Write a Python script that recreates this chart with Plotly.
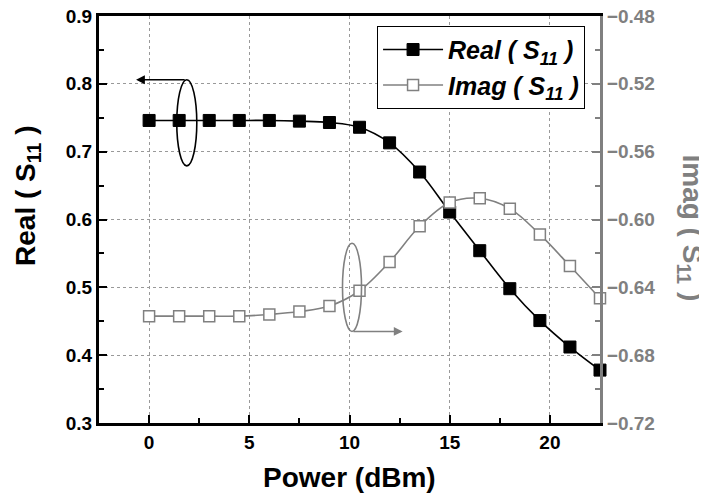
import plotly.graph_objects as go

power = [0, 1.5, 3, 4.5, 6, 7.5, 9, 10.5, 12, 13.5, 15, 16.5, 18, 19.5, 21, 22.5]
real_s11 = [0.746, 0.746, 0.746, 0.746, 0.746, 0.745, 0.743, 0.736, 0.713, 0.670, 0.611,
            0.554, 0.498, 0.451, 0.412, 0.378]
imag_s11 = [-0.657, -0.657, -0.657, -0.657, -0.656, -0.6543, -0.651, -0.642, -0.625, -0.604,
            -0.590, -0.5875, -0.5936, -0.6088, -0.6274, -0.6465]

FONT = "Liberation Sans, Arial, sans-serif"
GRAY = "#808080"

fig = go.Figure()
fig.add_trace(go.Scatter(
    x=power, y=real_s11, mode="lines+markers", name="<b><i>Real ( S<sub>11</sub> )</i></b>",
    line=dict(color="black", width=1.6, shape="spline"),
    marker=dict(symbol="square", size=12, color="black", line=dict(color="black", width=1)),
    yaxis="y", cliponaxis=False))
fig.add_trace(go.Scatter(
    x=power, y=imag_s11, mode="lines+markers", name="<b><i>Imag ( S<sub>11</sub> )</i></b>",
    line=dict(color=GRAY, width=1.6, shape="spline"),
    marker=dict(symbol="square", size=11, color="white", line=dict(color=GRAY, width=1.5)),
    yaxis="y2", cliponaxis=False))

fig.update_layout(
    width=707, height=499,
    margin=dict(l=91, r=115, t=8, b=84, autoexpand=False),
    plot_bgcolor="white", paper_bgcolor="white",
    font=dict(family=FONT, size=18, color="black"),
    showlegend=True,
    legend=dict(x=0.555, y=0.976, xanchor="left", yanchor="top",
                bordercolor="black", borderwidth=1, bgcolor="white",
                font=dict(family=FONT, size=25, color="black"),
                itemwidth=60, tracegroupgap=0),
    xaxis=dict(range=[-2.5, 22.5], dtick=5, tick0=0, automargin=False,
               showline=True, linecolor="black", linewidth=3, mirror=True,
               ticks="inside", ticklen=8, tickwidth=2, tickcolor="black",
               minor=dict(dtick=2.5, ticks="inside", ticklen=5, tickwidth=2, tickcolor="black"),
               showgrid=True, gridcolor="#999999", griddash="dot", gridwidth=1,
               zeroline=False, ticklabeloverflow="allow",
               tickfont=dict(family=FONT, size=19, color="black", weight="bold")),
    yaxis=dict(range=[0.3, 0.9], dtick=0.1, tick0=0.3, tickformat=".1f", automargin=False,
               showline=True, linecolor="black", linewidth=3,
               ticks="inside", ticklen=8, tickwidth=2, tickcolor="black",
               minor=dict(dtick=0.05, ticks="inside", ticklen=5, tickwidth=2, tickcolor="black"),
               showgrid=True, gridcolor="#999999", griddash="dot", gridwidth=1,
               zeroline=False, ticklabeloverflow="allow",
               tickfont=dict(family=FONT, size=19, color="black", weight="bold")),
    yaxis2=dict(range=[-0.72, -0.48], dtick=0.04, tick0=-0.72, tickformat=".2f",
                overlaying="y", side="right", automargin=False,
                showline=True, linecolor=GRAY, linewidth=3,
                ticks="inside", ticklen=8, tickwidth=2, tickcolor=GRAY,
                minor=dict(dtick=0.02, ticks="inside", ticklen=5, tickwidth=2, tickcolor=GRAY),
                showgrid=False, zeroline=False, ticklabeloverflow="allow",
                tickfont=dict(family=FONT, size=19, color=GRAY, weight="bold")),
)

# Axis titles
fig.add_annotation(text="<b>Power (dBm)</b>", xref="paper", yref="paper", x=0.5, y=-0.135,
                   xanchor="center", yanchor="middle", showarrow=False,
                   font=dict(family=FONT, size=28, color="black"))
fig.add_annotation(text="<b>Real ( S<sub>11</sub> )</b>", xref="paper", yref="paper",
                   x=-0.144, y=0.56, xanchor="center", yanchor="middle", textangle=-90,
                   showarrow=False, font=dict(family=FONT, size=28, color="black"))
fig.add_annotation(text="<b>Imag ( S<sub>11</sub> )</b>", xref="paper", yref="paper",
                   x=1.18, y=0.48, xanchor="center", yanchor="middle", textangle=90,
                   showarrow=False, font=dict(family=FONT, size=28, color=GRAY))

# Ellipses marking which axis each series uses
fig.add_shape(type="circle", xref="x", yref="y", x0=1.38, x1=2.38, y0=0.679, y1=0.806,
              line=dict(color="black", width=1.6))
fig.add_annotation(xref="x", yref="y", axref="x", ayref="y", x=-0.65, y=0.806,
                   ax=1.85, ay=0.806, text="", showarrow=True, arrowhead=2,
                   arrowsize=1.1, arrowwidth=1.6, arrowcolor="black")
fig.add_shape(type="circle", xref="x", yref="y", x0=9.65, x1=10.6, y0=0.435, y1=0.565,
              line=dict(color=GRAY, width=1.6))
fig.add_annotation(xref="x", yref="y", axref="x", ayref="y", x=12.65, y=0.435,
                   ax=10.12, ay=0.435, text="", showarrow=True, arrowhead=2,
                   arrowsize=1.1, arrowwidth=1.6, arrowcolor=GRAY)

fig.write_html("out.html")
